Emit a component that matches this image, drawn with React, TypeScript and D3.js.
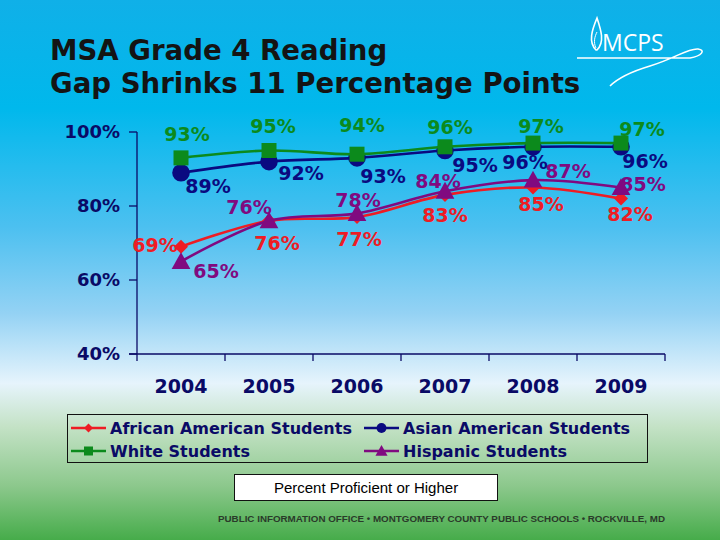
import { useRef, useEffect } from "react";
import * as d3 from "d3";

const years = ["2004", "2005", "2006", "2007", "2008", "2009"];
const african = [69, 76, 77, 83, 85, 82];
const asian = [89, 92, 93, 95, 96, 96];
const white = [93, 95, 94, 96, 97, 97];
const hispanic = [65, 76, 78, 84, 87, 85];
const yTicks = [40, 60, 80, 100];

const seriesNames = [
  "African American Students",
  "Asian American Students",
  "White Students",
  "Hispanic Students",
];

const width = 720;
const height = 540;
const COLORS = ["#ee1c24", "#0a0a80", "#0c8a1c", "#800a80"];
const SHAPES = ["diamond", "circle", "square", "triangle"];

// label offsets (px) from each point, per series
const labelOffsets: [number, number][][] = [
  [[-26, -2], [8, 22], [2, 22], [0, 20], [8, 17], [9, 16]],
  [[27, 13], [32, 12], [26, 18], [30, 15], [-8, 15], [24, 14]],
  [[6, -24], [4, -24], [5, -29], [5, -20], [8, -17], [21, -14]],
  [[35, 10], [-20, -14], [1, -13], [-7, -10], [35, -9], [22, -3]],
];

function marker(g: any, shape: string, x: number, y: number, s: number, color: string) {
  if (shape === "circle") {
    g.append("circle").attr("cx", x).attr("cy", y).attr("r", s * 0.55).attr("fill", color);
  } else if (shape === "square") {
    g.append("rect").attr("x", x - s / 2).attr("y", y - s / 2).attr("width", s).attr("height", s).attr("fill", color);
  } else if (shape === "diamond") {
    const h = s * 0.5;
    g.append("path").attr("d", `M${x},${y - h}L${x + h},${y}L${x},${y + h}L${x - h},${y}Z`).attr("fill", color);
  } else {
    const h = s * 0.55;
    g.append("path")
      .attr("d", `M${x},${y - h}L${x + h},${y + h * 0.8}L${x - h},${y + h * 0.8}Z`)
      .attr("fill", color);
  }
}

export default function App() {
  const ref = useRef<SVGSVGElement | null>(null);

  useEffect(() => {
    const svg = d3.select(ref.current).attr("width", width).attr("height", height);
    svg.selectAll("*").remove();

    const defs = svg.append("defs");
    const grad = defs
      .append("linearGradient")
      .attr("id", "bg")
      .attr("x1", 0)
      .attr("y1", 0)
      .attr("x2", 0)
      .attr("y2", 1);
    [
      [0, "#10b0e8"],
      [0.2, "#00b8ec"],
      [0.42, "#4cc0f0"],
      [0.58, "#94d2f4"],
      [0.71, "#e6f4fc"],
      [0.79, "#c4e2c6"],
      [0.9, "#8cc88c"],
      [1, "#46ac4a"],
    ].forEach(([o, c]) => grad.append("stop").attr("offset", o as number).attr("stop-color", c as string));

    svg.append("rect").attr("width", width).attr("height", height).attr("fill", "url(#bg)");

    // title
    const title = svg
      .append("text")
      .attr("font-family", "DejaVu Sans")
      .attr("font-weight", "bold")
      .attr("font-size", 27.6)
      .attr("fill", "#141414");
    title.append("tspan").attr("x", 50).attr("y", 60).text("MSA Grade 4 Reading");
    title.append("tspan").attr("x", 50).attr("y", 93).text("Gap Shrinks 11 Percentage Points");

    // logo
    const logo = svg.append("g").attr("fill", "none").attr("stroke", "white").attr("stroke-width", 1.6);
    logo.append("text")
      .attr("x", 602)
      .attr("y", 51)
      .attr("font-family", "Open Sans")
      .attr("font-size", 23)
      .attr("fill", "white")
      .attr("stroke", "none")
      .text("MCPS");
    logo.append("path").attr("d", "M596,50 C588,42 592,30 597,18 C601,30 605,42 597,50 Z");
    logo.append("path").attr("d", "M596,48 C593,42 595,36 597,32").attr("stroke-width", 1);
    logo.append("path").attr("d", "M577,58 L690,58 C702,56 706,50 698,49 C688,48 676,58 650,66 C630,72 618,78 610,86");

    const x = d3.scaleBand().domain(years).range([137, 665]).padding(0);
    const cx = (d: string) => (x(d) as number) + x.bandwidth() / 2;
    const y = d3.scaleLinear().domain([40, 100]).range([354, 132]);
    const axisColor = "#0a0a66";

    // y axis
    svg.append("line").attr("x1", 137).attr("x2", 137).attr("y1", y(100)).attr("y2", y(40)).attr("stroke", axisColor).attr("stroke-width", 1.3);
    yTicks.forEach((t) => {
      svg.append("line").attr("x1", 129).attr("x2", 137).attr("y1", y(t)).attr("y2", y(t)).attr("stroke", axisColor).attr("stroke-width", 1.3);
      svg.append("text")
        .attr("x", 120)
        .attr("y", y(t))
        .attr("dy", "0.36em")
        .attr("text-anchor", "end")
        .attr("font-family", "DejaVu Sans")
        .attr("font-weight", "bold")
        .attr("font-size", 18)
        .attr("fill", axisColor)
        .text(`${t}%`);
    });

    // x axis
    svg.append("line").attr("x1", 129).attr("x2", 665).attr("y1", y(40)).attr("y2", y(40)).attr("stroke", axisColor).attr("stroke-width", 1.3);
    [...years.map((d) => x(d) as number), 665].forEach((t) => {
      svg.append("line").attr("x1", t).attr("x2", t).attr("y1", y(40)).attr("y2", y(40) + 7).attr("stroke", axisColor).attr("stroke-width", 1.3);
    });
    years.forEach((d) => {
      svg.append("text")
        .attr("x", cx(d))
        .attr("y", 393)
        .attr("text-anchor", "middle")
        .attr("font-family", "DejaVu Sans")
        .attr("font-weight", "bold")
        .attr("font-size", 19)
        .attr("fill", axisColor)
        .text(d);
    });

    const allSeries = [african, asian, white, hispanic];
    const line = d3
      .line<number>()
      .x((_, i) => cx(years[i]))
      .y((v) => y(v))
      .curve(d3.curveCatmullRom.alpha(0.5));

    allSeries.forEach((s, si) => {
      svg.append("path")
        .datum(s)
        .attr("fill", "none")
        .attr("stroke", COLORS[si])
        .attr("stroke-width", 2.6)
        .attr("d", line);
      const g = svg.append("g");
      s.forEach((v, i) => {
        const size = SHAPES[si] === "circle" ? 16 : SHAPES[si] === "square" ? 15 : SHAPES[si] === "triangle" ? 17 : 14;
        marker(g, SHAPES[si], cx(years[i]), y(v), size, COLORS[si]);
      });
    });

    // data labels
    allSeries.forEach((s, si) => {
      s.forEach((v, i) => {
        const [dx, dy] = labelOffsets[si][i];
        svg.append("text")
          .attr("x", cx(years[i]) + dx)
          .attr("y", y(v) + dy)
          .attr("dy", "0.36em")
          .attr("text-anchor", "middle")
          .attr("font-family", "DejaVu Sans")
          .attr("font-weight", "bold")
          .attr("font-size", 19)
          .attr("fill", COLORS[si])
          .text(`${v}%`);
      });
    });

    // legend
    svg.append("rect").attr("x", 67.5).attr("y", 414.5).attr("width", 580).attr("height", 48).attr("fill", "none").attr("stroke", "#111").attr("stroke-width", 1);
    const legendPos: [number, number][] = [
      [71, 428],
      [364, 428],
      [71, 451],
      [364, 451],
    ];
    seriesNames.forEach((name, si) => {
      const [lx, ly] = legendPos[si];
      const g = svg.append("g");
      g.append("line").attr("x1", lx).attr("x2", lx + 35).attr("y1", ly).attr("y2", ly).attr("stroke", COLORS[si]).attr("stroke-width", 2.6);
      marker(g, SHAPES[si], lx + 17.5, ly, SHAPES[si] === "triangle" ? 11 : 9, COLORS[si]);
      g.append("text")
        .attr("x", lx + 39)
        .attr("y", ly)
        .attr("dy", "0.36em")
        .attr("font-family", "DejaVu Sans")
        .attr("font-weight", "bold")
        .attr("font-size", 16)
        .attr("fill", "#0a0a66")
        .text(name);
    });

    // caption box
    svg.append("rect").attr("x", 234.5).attr("y", 474.5).attr("width", 263).attr("height", 26).attr("fill", "white").attr("stroke", "#111");
    svg.append("text")
      .attr("x", 366)
      .attr("y", 488)
      .attr("dy", "0.36em")
      .attr("text-anchor", "middle")
      .attr("font-family", "Liberation Sans")
      .attr("font-size", 15)
      .attr("fill", "#000")
      .text("Percent Proficient or Higher");

    // footer
    svg.append("text")
      .attr("x", 218)
      .attr("y", 522)
      .attr("font-family", "Liberation Sans")
      .attr("font-weight", "bold")
      .attr("font-size", 9.8)
      .attr("textLength", 447)
      .attr("lengthAdjust", "spacingAndGlyphs")
      .attr("fill", "#2a3a2a")
      .text("PUBLIC INFORMATION OFFICE \u2022 MONTGOMERY COUNTY PUBLIC SCHOOLS \u2022 ROCKVILLE, MD");
  }, []);

  return (
    <svg
      ref={ref}
      style={{ position: "absolute", left: 0, top: 0, display: "block" }}
    />
  );
}
